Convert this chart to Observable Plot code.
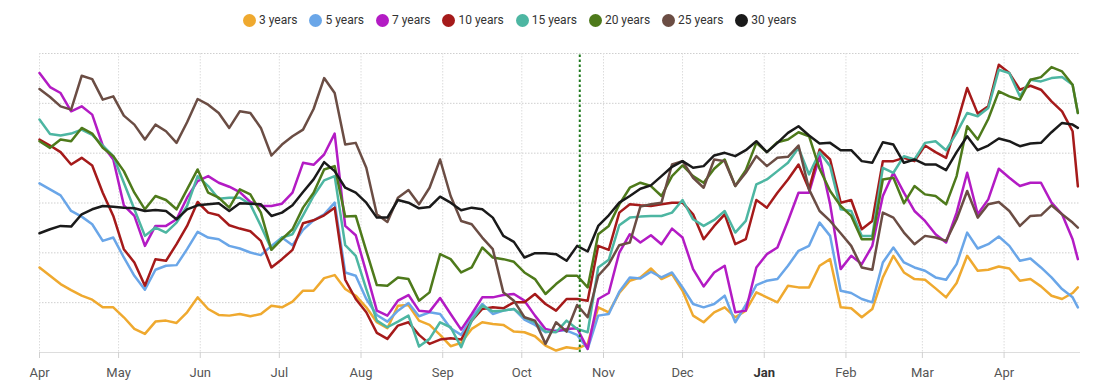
<!DOCTYPE html>
<html><head><meta charset="utf-8">
<script src="https://cdn.jsdelivr.net/npm/d3@7"></script>
<script src="https://cdn.jsdelivr.net/npm/@observablehq/plot@0.6"></script>
<style>
body{margin:0;background:#fff;font-family:Roboto,"Helvetica Neue",Arial,sans-serif;}
#legend{position:relative;height:40px;width:1097px;}
#legend .inner{position:absolute;left:243px;top:13px;display:flex;align-items:center;font-size:12px;color:#333;line-height:14px;}
.item{display:flex;align-items:center;margin-right:12px;white-space:nowrap;}
.sw{width:13px;height:13px;border-radius:50%;margin-right:3px;}
</style></head>
<body>
<div id="legend"><div class="inner"></div></div>
<div id="chart"></div>
<script>
const seriesNames = ["3 years","5 years","7 years","10 years","15 years","20 years","25 years","30 years"];
const seriesColors = ["#efa92f","#6aa6e8","#b31bc4","#a51a1a","#4db6a2","#4e7a1b","#6b4d44","#1a1a1a"];
const startDate = "2023-04-01";
const endDate = "2024-04-30";
const sampleDayOffsets = [...d3.range(0, 393, 4), 394];
const monthTicks = ["2023-04-01","2023-05-01","2023-06-01","2023-07-01","2023-08-01","2023-09-01","2023-10-01","2023-11-01","2023-12-01","2024-01-01","2024-02-01","2024-03-01","2024-04-01"];
const boldTicks = ["2024-01-01"];
const markerDates = ["2023-10-23"];
const yGridTicks = [150,300,450,600,750,900];

const y3 = [256,231,206,188,171,159,136,136,106,71,56,93,96,89,121,166,131,
113,111,116,109,116,141,136,153,186,186,224,233,191,171,136,91,73,
141,143,96,83,53,19,29,71,91,86,83,63,61,49,21,6,16,
11,26,136,121,179,216,226,253,221,236,186,111,91,121,136,106,
126,181,166,151,201,196,196,261,281,136,133,106,131,226,291,241,221,
219,193,166,209,291,246,249,259,253,216,221,199,171,161,179,196];
const y5 = [509,491,473,426,409,386,336,346,286,231,189,249,261,263,311,363,346,
341,321,313,301,293,321,346,323,369,398,416,451,241,231,161,113,93,
126,149,109,121,116,73,53,106,146,116,126,131,99,83,61,66,66,
53,11,111,116,183,226,223,243,226,241,196,146,136,146,171,91,
143,203,216,221,261,306,321,391,351,186,179,161,151,271,316,271,256,
246,226,219,266,361,313,326,349,321,276,283,256,226,191,166,136];
const y7 = [841,799,781,726,741,716,623,581,443,411,321,381,381,401,466,516,531,
511,499,483,453,441,441,448,481,571,565,596,659,381,353,241,126,111,
156,173,126,123,164,116,69,116,166,166,173,176,156,111,71,63,71,
73,11,161,179,301,356,331,353,326,373,346,251,199,241,261,121,
126,256,296,316,396,481,481,591,446,251,291,266,321,471,541,481,426,
396,356,331,421,541,416,461,553,526,501,511,511,451,416,341,281];
const y10 = [641,623,603,566,586,563,481,411,311,271,201,281,276,326,381,453,421,
413,383,373,365,336,256,281,309,389,398,413,436,219,161,121,59,41,
81,91,53,26,39,43,39,96,131,136,133,151,151,176,146,126,161,
161,156,321,309,421,446,443,441,446,451,451,416,341,381,416,326,
341,459,436,481,521,566,491,611,581,451,459,371,396,576,576,586,576,
623,603,586,686,796,719,741,866,841,791,803,791,756,726,666,500];
const y15 = [701,658,653,659,671,655,623,591,511,431,351,376,361,391,441,531,501,
463,466,466,446,381,311,346,356,413,471,518,531,323,291,191,96,76,
93,111,18,41,91,76,16,96,141,124,126,131,106,91,63,61,96,
71,61,256,279,383,406,409,411,411,421,459,401,381,399,426,361,
396,506,521,546,571,616,536,603,561,431,426,351,351,556,541,591,581,
631,636,609,661,721,711,736,851,841,771,821,816,826,829,806,721];
const y20 = [636,616,641,636,676,659,616,591,546,481,431,471,459,431,491,551,481,
466,436,491,476,421,309,341,371,436,481,551,561,409,411,306,203,201,
226,221,156,181,296,281,241,256,316,286,281,273,241,221,176,206,231,
231,196,356,381,446,496,511,501,471,531,563,531,511,553,581,501,
549,631,603,633,641,663,651,553,486,441,411,341,341,521,526,449,501,
476,471,446,531,681,641,703,786,771,761,821,829,859,846,806,721];
const y25 = [793,769,741,731,833,823,761,771,713,686,641,686,666,631,693,763,746,
721,676,726,721,676,593,626,651,671,733,826,781,626,631,556,416,393,
466,489,446,496,581,471,396,386,346,311,181,156,106,96,26,91,63,
143,106,231,266,323,331,439,446,451,566,576,526,496,581,576,501,
541,591,561,586,589,623,491,426,396,359,321,256,249,421,406,361,326,
351,346,336,401,486,406,446,453,426,381,411,413,443,416,391,376];
const y30 = [359,371,381,379,416,431,441,439,436,434,426,429,426,401,431,443,446,
449,426,449,448,446,411,421,443,483,521,573,546,496,481,451,406,406,
459,451,434,438,469,451,428,436,431,406,351,333,286,299,299,296,276,
321,304,381,413,451,471,493,503,531,559,576,556,561,593,601,591,
609,636,603,631,661,681,653,629,631,609,609,576,571,633,626,571,581,
566,566,549,603,651,609,623,644,636,621,629,631,663,691,686,676];

const seriesValues = [y3,y5,y7,y10,y15,y20,y25,y30];
const parse = d3.utcParse("%Y-%m-%d");
const start = parse(startDate);
const dates = sampleDayOffsets.map(d => d3.utcDay.offset(start, d));
const rows = [];
seriesNames.forEach((name, k) => {
  seriesValues[k].forEach((v, i) => rows.push({date: dates[i], value: v, series: name}));
});
const ticks = monthTicks.map(parse);
const normalTicks = monthTicks.filter(t => !boldTicks.includes(t)).map(parse);
const janTicks = boldTicks.map(parse);
const fmt = d3.utcFormat("%b");

// legend
const inner = document.querySelector("#legend .inner");
seriesNames.forEach((n, i) => {
  const it = document.createElement("div"); it.className = "item";
  const sw = document.createElement("span"); sw.className = "sw"; sw.style.background = seriesColors[i];
  const tx = document.createElement("span"); tx.textContent = n;
  it.appendChild(sw); it.appendChild(tx); inner.appendChild(it);
});

const chart = Plot.plot({
  width: 1097, height: 347,
  marginLeft: 39, marginRight: 17, marginTop: 13, marginBottom: 35,
  style: {fontFamily: "Roboto, Arial, sans-serif", fontSize: "13px", background: "#fff"},
  x: {type: "utc", domain: [start, parse(endDate)]},
  y: {domain: [0, 900], axis: null},
  color: {domain: seriesNames, range: seriesColors},
  marks: [
    Plot.gridY(yGridTicks, {stroke: "#cfcfcf", strokeOpacity: 1, strokeDasharray: "1.5,1.5"}),
    Plot.gridX(ticks, {stroke: "#dcdcdc", strokeOpacity: 1, strokeDasharray: "1.5,1.5"}),
    Plot.ruleY([0], {stroke: "#dddddd"}),
    Plot.axisX(ticks, {tickSize: 6, tickFormat: () => "", color: "#d0d0d0"}),
    Plot.axisX(normalTicks, {tickSize: 0, tickPadding: 15, tickFormat: fmt, color: "#555", fontSize: 13}),
    Plot.axisX(janTicks, {tickSize: 0, tickPadding: 15, tickFormat: fmt, color: "#333", fontSize: 13, fontWeight: "bold"}),
    Plot.line(rows, {x: "date", y: "value", z: "series", stroke: "series", strokeWidth: 2.5, strokeLinejoin: "round", strokeLinecap: "round"}),
    Plot.ruleX(markerDates.map(parse), {y1: 0, y2: 900, stroke: "#1e7a1e", strokeWidth: 2, strokeDasharray: "2.5,2.5"})
  ]
});
document.getElementById("chart").appendChild(chart);
</script>
</body></html>
